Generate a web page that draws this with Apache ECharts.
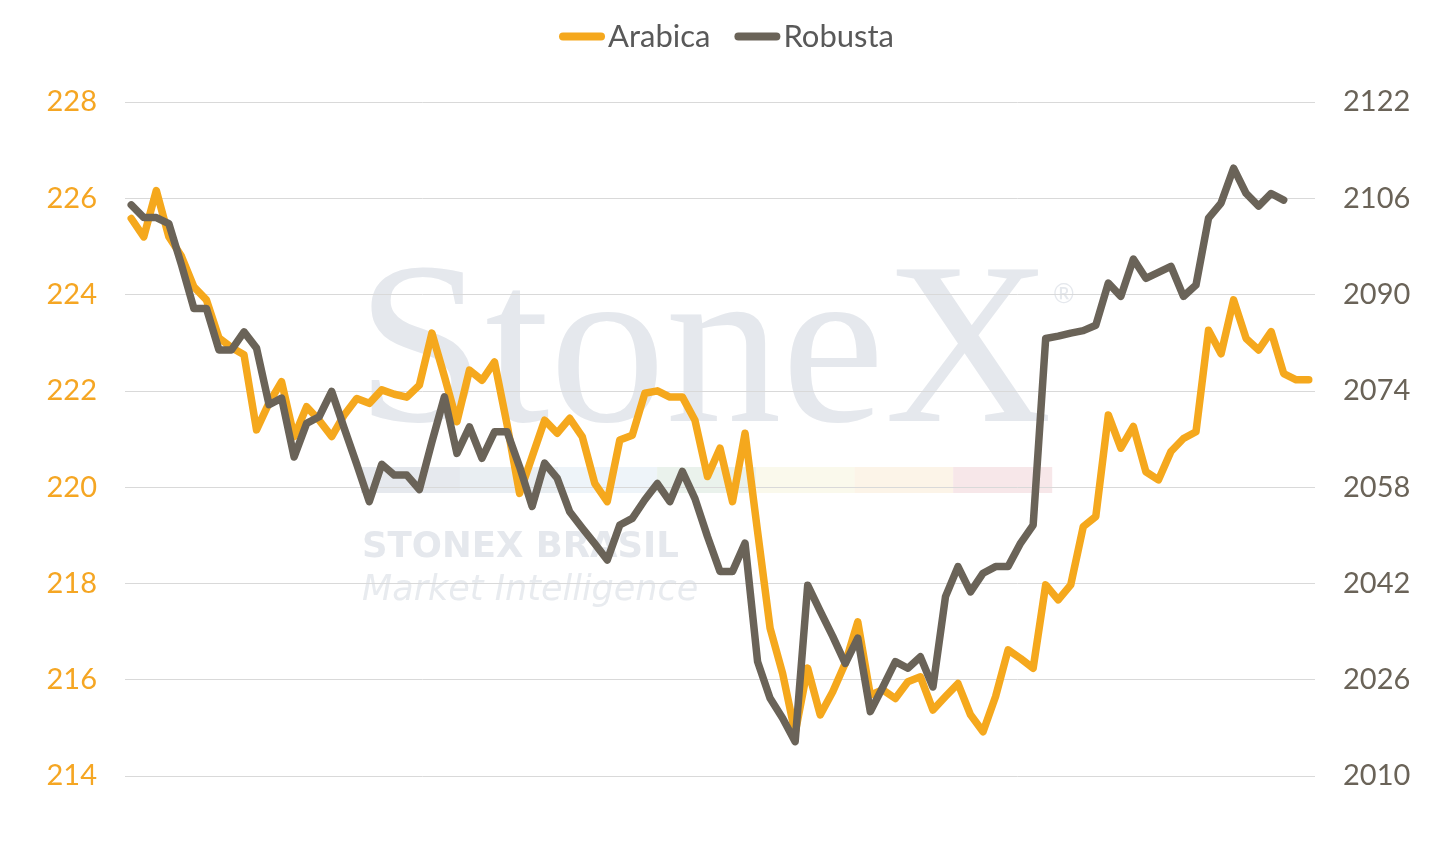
<!DOCTYPE html>
<html>
<head>
<meta charset="utf-8">
<title>Arabica x Robusta</title>
<script src="https://cdn.jsdelivr.net/npm/echarts@6/dist/echarts.min.js"></script>
<style>
  html, body { margin: 0; padding: 0; background: #fff; }
  #chart { width: 1453px; height: 842px; }
</style>
</head>
<body>
<div id="chart"></div>
<script>
// valores (sem rótulos no eixo x)
var arabica = [
  225.58, 225.2, 226.16, 225.2, 224.8, 224.16, 223.89, 223.1, 222.9, 222.75,
  221.19, 221.75, 222.19, 221.05, 221.67, 221.39, 221.05, 221.5, 221.84, 221.74,
  222.02, 221.93, 221.87, 222.12, 223.2, 222.3, 221.36, 222.43, 222.22, 222.6,
  221.3, 219.87, 220.63, 221.39, 221.12, 221.43, 221.05, 220.08, 219.7, 220.98,
  221.08, 221.95, 222.0, 221.87, 221.87, 221.39, 220.22, 220.81, 219.7, 221.12,
  219.08, 217.07, 216.13, 214.89, 216.24, 215.27, 215.75, 216.34, 217.2, 215.68,
  215.79, 215.61, 215.96, 216.06, 215.37, 215.65, 215.92, 215.27, 214.92, 215.65,
  216.62, 216.44, 216.24, 217.97, 217.66, 217.97, 219.18, 219.39, 221.5, 220.81,
  221.26, 220.32, 220.15, 220.74, 221.01, 221.15, 223.26, 222.77, 223.89, 223.09,
  222.85, 223.23, 222.36, 222.23, 222.23
];
var robusta = [
  2104.9, 2102.8, 2102.8, 2101.8, 2095, 2087.7, 2087.7, 2080.8, 2080.8, 2083.8,
  2081.1, 2071.7, 2072.8, 2063.0, 2068.6, 2069.7, 2073.9, 2067.8, 2061.8, 2055.6,
  2061.8, 2060.0, 2060.0, 2057.6, 2065.5, 2073.0, 2063.6, 2068.0, 2062.8, 2067.2,
  2067.2, 2061.4, 2054.8, 2062.0, 2059.5, 2053.9, 2051.2, 2048.6, 2045.9, 2051.7,
  2052.8, 2055.9, 2058.6, 2055.6, 2060.6, 2056.1, 2049.8, 2044.0, 2044.0, 2048.7,
  2029.0, 2022.9, 2019.6, 2015.7, 2041.7, 2037.4, 2033.2, 2028.7, 2032.9, 2020.7,
  2024.8, 2029.0, 2027.9, 2029.8, 2024.8, 2039.8, 2044.8, 2040.6, 2043.7, 2044.8,
  2044.8, 2048.7, 2051.7, 2082.7, 2083.1, 2083.6, 2084.0, 2084.9, 2091.9, 2089.7,
  2095.9, 2092.7, 2093.7, 2094.7, 2089.7, 2091.6, 2102.7, 2105.2, 2111.0, 2106.8,
  2104.7, 2106.8, 2105.7, null, null
];
var categories = arabica.map(function (v, i) { return String(i + 1); });

var leftAxis = { min: 214, max: 228, interval: 2 };
var rightAxis = { min: 2010, max: 2122, interval: 16 };

var orange = '#F5A81D';
var grey = '#6A6358';
var pillIcon = 'path://M4 0h38a4 4 0 0 1 0 8h-38a4 4 0 0 1 0-8z';

// faixa colorida da marca d'água
var bandColors = ['#E6E9EE', '#E9EEF2', '#EEF4F9', '#EAF2EC', '#FAF9EC', '#FCF4E8', '#F7E7E9'];
var bandRects = bandColors.map(function (c, i) {
  return {
    type: 'rect', z: -10, silent: true,
    shape: { x: 361 + i * 98.7, y: 467, width: 99, height: 26 },
    style: { fill: c }
  };
});

var myChart = echarts.init(document.getElementById('chart'));
myChart.setOption({
  animation: false,
  backgroundColor: '#fff',
  textStyle: { fontFamily: 'Lato' },
  legend: {
    top: 16,
    left: 'center',
    itemWidth: 46,
    itemHeight: 8,
    itemGap: 24,
    icon: pillIcon,
    textStyle: { fontSize: 31, color: '#595959', fontFamily: 'Lato', padding: [0, 0, 0, -2] },
    data: ['Arabica', 'Robusta']
  },
  grid: { left: 125, right: 138, top: 102, bottom: 66 },
  graphic: [
    {
      type: 'text', z: -10, silent: true, x: 356, y: 360,
      style: { text: 'StoneX', font: 'normal 232px "Liberation Serif"', fill: '#E5E8ED', verticalAlign: 'middle' }
    },
    {
      type: 'text', z: -10, silent: true, x: 1053, y: 295,
      style: { text: '®', font: 'normal 26px "Lato"', fill: '#E5E8ED', verticalAlign: 'middle' }
    },
    {
      type: 'text', z: -10, silent: true, x: 362, y: 548,
      style: { text: 'STONEX BRASIL', font: 'bold 35.5px "DejaVu Sans"', fill: '#E5E8ED', verticalAlign: 'middle' }
    },
    {
      type: 'text', z: -10, silent: true, x: 362, y: 591,
      style: { text: 'Market Intelligence', font: 'italic 200 35px "DejaVu Sans"', fill: '#E8EBEF', verticalAlign: 'middle' }
    }
  ].concat(bandRects),
  xAxis: {
    type: 'category',
    data: categories,
    boundaryGap: true,
    axisLine: { show: false },
    axisTick: { show: false },
    axisLabel: { show: false },
    splitLine: { show: false }
  },
  yAxis: [
    {
      type: 'value',
      position: 'left',
      min: leftAxis.min, max: leftAxis.max, interval: leftAxis.interval,
      axisLine: { show: false },
      axisTick: { show: false },
      axisLabel: { color: '#F5A623', fontSize: 29, margin: 28, fontFamily: 'Lato' },
      splitLine: { show: true, lineStyle: { color: '#D9D9D9', width: 1 } }
    },
    {
      type: 'value',
      position: 'right',
      min: rightAxis.min, max: rightAxis.max, interval: rightAxis.interval,
      axisLine: { show: false },
      axisTick: { show: false },
      axisLabel: {
        color: '#6A6358', fontSize: 29, margin: 28, fontFamily: 'Lato',
        formatter: function (v) { return String(v); }
      },
      splitLine: { show: false }
    }
  ],
  series: [
    {
      name: 'Arabica',
      type: 'line',
      yAxisIndex: 0,
      data: arabica,
      symbol: 'none',
      color: orange,
      lineStyle: { width: 7.5, color: orange, cap: 'round', join: 'round' },
      z: 3
    },
    {
      name: 'Robusta',
      type: 'line',
      yAxisIndex: 1,
      data: robusta,
      symbol: 'none',
      color: grey,
      lineStyle: { width: 7.5, color: grey, cap: 'round', join: 'round' },
      z: 4
    }
  ]
});
</script>
</body>
</html>
